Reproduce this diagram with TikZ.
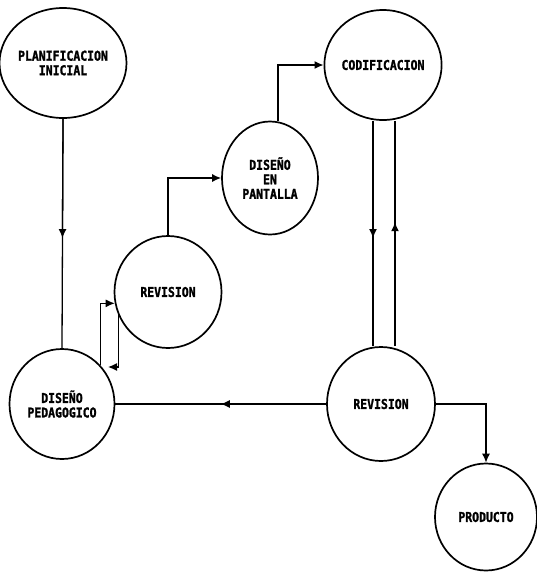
\documentclass[tikz,border=0pt]{standalone}
\usepackage{fontspec}
\newfontfamily\plotfont[FakeStretch=0.85,FakeBold=1.5]{DejaVu Sans Mono}
\usetikzlibrary{shapes.geometric,arrows.meta,calc}
\begin{document}
\begin{tikzpicture}[x=1pt,y=-1pt,
  bub/.style={draw,ellipse,line width=1.7pt,inner sep=0pt,align=center,
    font=\plotfont\bfseries\fontsize{13.5}{14.5}\selectfont},
  conn/.style={line width=1.3pt},
  tip/.style={-{Latex[length=9pt,width=8pt]}}]
\useasboundingbox (0,0) rectangle (537,574);
\node[bub,minimum width=102pt,minimum height=110pt] (plan) at (63,63) {PLANIFICACION\\INICIAL};
\node[bub,minimum width=105pt,minimum height=110pt] (ped) at (62,404) {DISEÑO\\PEDAGOGICO};
\node[bub,minimum width=107pt,minimum height=112pt] (rev1) at (168,292) {REVISION};
\node[bub,minimum width=96pt,minimum height=113pt] (pant) at (270,178) {DISEÑO\\EN\\PANTALLA};
\node[bub,minimum width=106pt,minimum height=110pt] (cod) at (383,65) {CODIFICACION};
\node[bub,minimum width=108pt,minimum height=114pt] (rev2) at (381,404) {REVISION};
\node[bub,minimum width=102pt,minimum height=107pt] (prod) at (486,517) {PRODUCTO};
\coordinate (pin) at (108,367);
\coordinate (xl) at (373,0);
\coordinate (xr) at (395,0);
% planificacion -> pedagogico
\draw[conn] (plan.south) -- (ped.north);
\draw[conn,tip] (plan.south) -- ($(plan.south)!0.52!(ped.north)$);
% pedagogico -> revision
\draw[conn,tip] (ped.45) |- (rev1.192);
% revision -> pedagogico
\draw[conn,tip] (rev1.205) |- (pin);
% revision -> pantalla
\draw[conn,tip] (rev1.north) |- (pant.west);
% pantalla -> codificacion
\draw[conn,tip] (pant.82) |- (cod.west);
% codificacion -> revision (down)
\draw[conn] (cod.south -| xl) -- (rev2.north -| xl);
\draw[conn,tip] (cod.south -| xl) -- ($(cod.south -| xl)!0.52!(rev2.north -| xl)$);
% revision -> codificacion (up)
\draw[conn] (rev2.north -| xr) -- (cod.south -| xr);
\draw[conn,tip] (rev2.north -| xr) -- ($(rev2.north -| xr)!0.55!(cod.south -| xr)$);
% revision -> pedagogico
\draw[conn] (rev2.west) -- (ped.east);
\draw[conn,tip] (rev2.west) -- ($(rev2.west)!0.5!(ped.east)$);
% revision -> producto
\draw[conn,tip] (rev2.east) -| (prod.north);
\end{tikzpicture}
\end{document}
